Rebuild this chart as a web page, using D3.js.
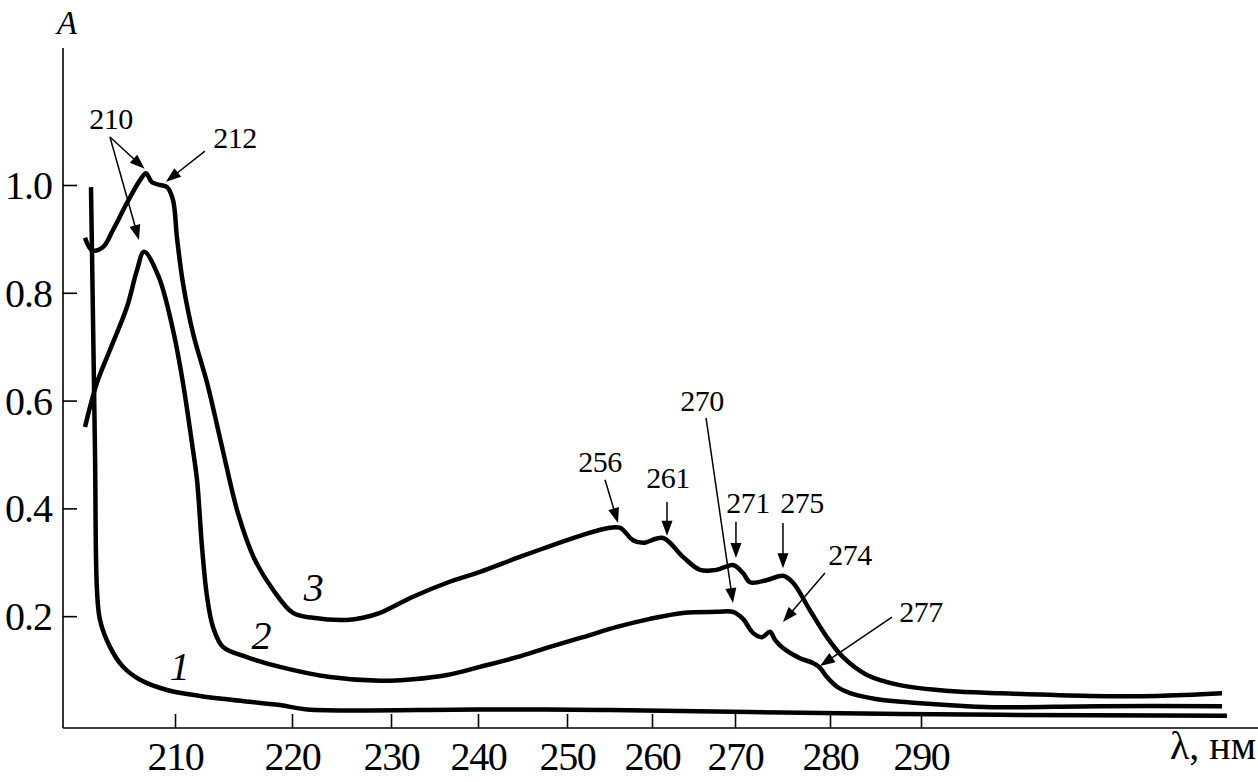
<!DOCTYPE html>
<html>
<head>
<meta charset="utf-8">
<script src="https://cdn.jsdelivr.net/npm/d3@7"></script>
<style>
  html, body { margin: 0; padding: 0; background: #fff; }
  svg { display: block; }
  text { font-family: "Liberation Serif", "Times New Roman", serif; fill: #000; }
</style>
</head>
<body>
<svg id="chart" width="1258" height="782"></svg>
<script>
// ---------------- DATA ----------------
const xTickValues = [210, 220, 230, 240, 250, 260, 270, 280, 290];
const yTickValues = [0.2, 0.4, 0.6, 0.8, 1.0];

// curve 1 : [wavelength nm, absorbance]
const curve1 = [
  [202.82, 0.996], [203.16, 0.508], [203.33, 0.249], [203.59, 0.193],
  [204.44, 0.143], [205.56, 0.106], [207.01, 0.082], [209.32, 0.063],
  [212.14, 0.052], [214.96, 0.0445], [218.97, 0.035], [221.52, 0.027],
  [240.22, 0.027], [253.88, 0.026], [271.58, 0.022], [298.68, 0.017],
  [323.63, 0.015]
];
// curve 2
const curve2 = [
  [202.31, 0.551], [203.33, 0.633], [204.44, 0.694], [205.90, 0.774],
  [206.75, 0.842], [207.35, 0.876], [208.60, 0.830], [209.83, 0.731],
  [210.68, 0.633], [211.45, 0.521], [211.88, 0.453], [212.31, 0.328],
  [212.74, 0.236], [213.25, 0.180], [214.10, 0.143], [216.15, 0.124],
  [218.97, 0.106], [223.84, 0.087], [228.89, 0.080], [232.53, 0.083],
  [236.44, 0.091], [240.22, 0.106], [244.38, 0.124], [248.09, 0.143],
  [251.88, 0.161], [255.88, 0.180], [259.76, 0.195], [263.73, 0.206],
  [267.83, 0.208], [269.76, 0.208], [270.84, 0.195], [271.89, 0.169],
  [272.84, 0.161], [273.68, 0.171], [274.21, 0.156], [275.05, 0.141],
  [276.84, 0.122], [278.21, 0.113], [278.95, 0.104], [279.68, 0.087],
  [280.77, 0.069], [282.20, 0.057], [285.16, 0.046], [289.56, 0.039],
  [295.05, 0.033], [298.68, 0.031], [309.67, 0.033], [323.08, 0.033]
];
// curve 3
const curve3 = [
  [202.31, 0.902], [202.91, 0.879], [203.85, 0.885], [204.70, 0.9165],
  [205.90, 0.967], [207.01, 1.009], [207.52, 1.022], [208.03, 1.005],
  [208.72, 1.000], [209.32, 0.996], [209.83, 0.972], [210.17, 0.902],
  [210.68, 0.818], [211.54, 0.725], [212.74, 0.633], [214.02, 0.514],
  [215.38, 0.391], [216.75, 0.308], [218.38, 0.249], [220.10, 0.206],
  [222.12, 0.197], [225.56, 0.193], [227.17, 0.197], [228.89, 0.206],
  [232.53, 0.236], [236.44, 0.262], [240.22, 0.282], [244.38, 0.308],
  [248.09, 0.330], [251.88, 0.351], [255.06, 0.364], [256.24, 0.364],
  [257.76, 0.341], [258.94, 0.336], [261.33, 0.345], [263.73, 0.310],
  [265.78, 0.286], [267.83, 0.286], [269.76, 0.295], [270.84, 0.280],
  [271.58, 0.263], [273.37, 0.267], [275.05, 0.275], [276.11, 0.262],
  [277.89, 0.211], [279.68, 0.161], [281.43, 0.124], [284.07, 0.091],
  [287.69, 0.072], [293.19, 0.061], [298.68, 0.057], [308.57, 0.052],
  [315.93, 0.052], [323.08, 0.057]
];
const curves = [curve1, curve2, curve3];
const curveLabels = [
  { text: "1", x: 210.4, a: 0.082 },
  { text: "2", x: 217.4, a: 0.139 },
  { text: "3", x: 222.2, a: 0.228 }
];
// annotations: label text, label anchor (nm, A), arrow tails and tips (nm, A)
const annotations = [
  { text: "210", lx: 204.53, la: 1.104, arrows: [[204.44, 1.089, 207.40, 1.030], [204.44, 1.089, 206.92, 0.898]] },
  { text: "212", lx: 215.13, la: 1.069, arrows: [[212.56, 1.063, 209.23, 1.006]] },
  { text: "256", lx: 253.88, la: 0.4675, arrows: [[254.47, 0.453, 256.0, 0.373]] },
  { text: "261", lx: 261.93, la: 0.438, arrows: [[261.81, 0.412, 261.81, 0.349]] },
  { text: "270", lx: 266.02, la: 0.581, arrows: [[266.51, 0.568, 269.76, 0.2244]] },
  { text: "271", lx: 271.37, la: 0.391, arrows: [[270.10, 0.375, 270.10, 0.308]] },
  { text: "275", lx: 277.05, la: 0.391, arrows: [[275.05, 0.373, 275.05, 0.289]] },
  { text: "274", lx: 282.2, la: 0.2949, arrows: [[279.47, 0.280, 275.05, 0.189]] },
  { text: "277", lx: 290.0, la: 0.189, arrows: [[286.81, 0.198, 278.95, 0.1075]] }
];

// ---------------- LAYOUT ----------------
const svg = d3.select("#chart");
const W = 1258, H = 782;
svg.append("rect").attr("width", W).attr("height", H).attr("fill", "#fff");

const axisLeftX = 63, axisRightX = 1258, axisTopY = 48;
// the original wavelength axis is drawn with uneven tick spacing
const xTickPx = [175, 292, 391, 478, 567, 652, 735, 830, 921];
const x = d3.scaleLinear().domain(xTickValues).range(xTickPx);
const y = d3.scaleLinear().domain([-0.0075, 1.0]).range([728, 185]);
const axisY = y(-0.0075);

const fontTick = 40;

// Axes lines
svg.append("line").attr("x1", axisLeftX).attr("x2", axisLeftX)
  .attr("y1", axisTopY).attr("y2", axisY)
  .attr("stroke", "#000").attr("stroke-width", 1.6);
svg.append("line").attr("x1", axisLeftX).attr("x2", axisRightX)
  .attr("y1", axisY).attr("y2", axisY)
  .attr("stroke", "#000").attr("stroke-width", 1.6);

// Y axis ticks
const yAxis = d3.axisLeft(y).tickValues(yTickValues)
  .tickSizeInner(-14).tickSizeOuter(0).tickPadding(11)
  .tickFormat(d3.format(".1f"));
const gy = svg.append("g").attr("transform", `translate(${axisLeftX},0)`).call(yAxis);
gy.select(".domain").remove();
gy.selectAll(".tick line").attr("stroke", "#000").attr("stroke-width", 1.6);
gy.selectAll(".tick text").attr("font-family", "Liberation Serif").attr("font-size", fontTick)
  .attr("letter-spacing", "-1px").attr("dy", "0.34em").attr("fill", "#000");

// X axis ticks
const xAxis = d3.axisBottom(x).tickValues(xTickValues)
  .tickSizeInner(-14).tickSizeOuter(0).tickPadding(14)
  .tickFormat(d3.format("d"));
const gx = svg.append("g").attr("transform", `translate(0,${axisY})`).call(xAxis);
gx.select(".domain").remove();
gx.selectAll(".tick line").attr("stroke", "#000").attr("stroke-width", 1.6);
gx.selectAll(".tick text").attr("font-family", "Liberation Serif").attr("font-size", fontTick)
  .attr("letter-spacing", "-1.3px").attr("fill", "#000");

// Axis titles
svg.append("text").attr("x", 67).attr("y", 34).attr("text-anchor", "middle")
  .attr("font-size", 33).attr("font-style", "italic").text("A");
svg.append("text").attr("x", 1256).attr("y", 759).attr("text-anchor", "end")
  .attr("font-size", 40).text("λ, нм");

// Curves
const line = d3.line().x(d => x(d[0])).y(d => y(d[1])).curve(d3.curveCatmullRom.alpha(0.5));
svg.append("g").selectAll("path").data(curves).join("path")
  .attr("d", line).attr("fill", "none").attr("stroke", "#000")
  .attr("stroke-width", 4.5).attr("stroke-linejoin", "round").attr("stroke-linecap", "butt");

// Curve labels
svg.append("g").selectAll("text").data(curveLabels).join("text")
  .attr("x", d => x(d.x)).attr("y", d => y(d.a)).attr("text-anchor", "middle")
  .attr("font-size", 40).attr("font-style", "italic").text(d => d.text);

// Annotations
const ag = svg.append("g");
annotations.forEach(an => {
  ag.append("text").attr("x", x(an.lx)).attr("y", y(an.la)).attr("text-anchor", "middle")
    .attr("font-size", 30).attr("letter-spacing", "-0.5px").text(an.text);
  an.arrows.forEach(([tx, ta, hx, ha]) => {
    const x1 = x(tx), y1 = y(ta), x2 = x(hx), y2 = y(ha);
    const ang = Math.atan2(y2 - y1, x2 - x1);
    const L = 15, hw = 5.5;
    const bx = x2 - L * Math.cos(ang), by = y2 - L * Math.sin(ang);
    ag.append("line").attr("x1", x1).attr("y1", y1).attr("x2", bx + 2 * Math.cos(ang)).attr("y2", by + 2 * Math.sin(ang))
      .attr("stroke", "#000").attr("stroke-width", 1.5);
    const px = -Math.sin(ang), py = Math.cos(ang);
    ag.append("path")
      .attr("d", `M${x2},${y2}L${bx + hw * px},${by + hw * py}L${bx - hw * px},${by - hw * py}Z`)
      .attr("fill", "#000");
  });
});
</script>
</body>
</html>
